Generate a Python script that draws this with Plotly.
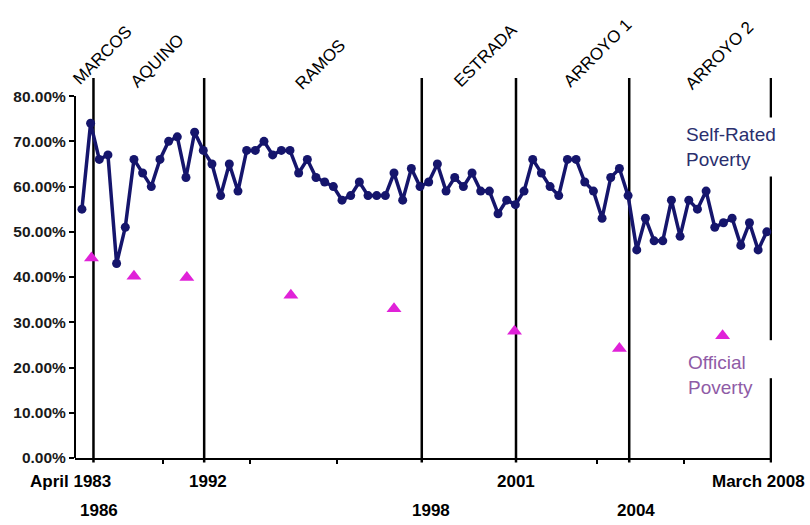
import plotly.graph_objects as go

# Self-rated poverty, % of families, one value per SWS survey round (Apr 1983 .. Mar 2008)
survey_no = list(range(1, 81))
self_rated = [
    55, 74, 66, 67, 43, 51, 66, 63, 60, 66,
    70, 71, 62, 72, 68, 65, 58, 65, 59, 68,
    68, 70, 67, 68, 68, 63, 66, 62, 61, 60,
    57, 58, 61, 58, 58, 58, 63, 57, 64, 60,
    61, 65, 59, 62, 60, 63, 59, 59, 54, 57,
    56, 59, 66, 63, 60, 58, 66, 66, 61, 59,
    53, 62, 64, 58, 46, 53, 48, 48, 57, 49,
    57, 55, 59, 51, 52, 53, 47, 52, 46, 50,
]

# Official poverty incidence, placed at the survey round nearest each official release
official_at = [2.1, 7.0, 13.1, 25.1, 37.0, 50.9, 63.0, 74.9]
official = [44.2, 40.2, 39.9, 36.0, 33.0, 28.0, 24.2, 27.0]

# Administration boundaries (survey-round position) and their names
term_breaks = [2.33, 15.1, 40.2, 51.07, 64.13, 80.48]
presidents = ["MARCOS", "AQUINO", "RAMOS", "ESTRADA", "ARROYO 1", "ARROYO 2"]
president_pos = [(0.039, 1.060), (0.119, 1.045), (0.352, 1.036),
                 (0.589, 1.060), (0.751, 1.066), (0.925, 1.058)]

# Date labels under the axis: first row and second row
date_row1 = [("April 1983", -0.006), ("1992", 0.191), ("2001", 0.633), ("March 2008", 0.980)]
date_row2 = [("1986", 0.034), ("1998", 0.511), ("2004", 0.805)]
row1_y, row2_y = -0.061, -0.139

y_ticks = [0, 10, 20, 30, 40, 50, 60, 70, 80]

NAVY = "#15156C"
MAGENTA = "#E022D8"
FONT = "Liberation Sans"

fig = go.Figure()

fig.add_trace(go.Scatter(
    x=survey_no, y=self_rated, mode="lines+markers",
    line=dict(color=NAVY, width=3.5),
    marker=dict(color=NAVY, size=9, symbol="circle"),
    showlegend=False, hoverinfo="skip",
))

fig.add_trace(go.Scatter(
    x=official_at, y=official, mode="markers",
    marker=dict(color=MAGENTA, size=13, symbol="triangle-up"),
    showlegend=False, hoverinfo="skip",
))

shapes = []
for xb in term_breaks:
    shapes.append(dict(type="line", xref="x", yref="paper", x0=xb, x1=xb,
                       y0=-0.012, y1=1.0, line=dict(color="black", width=2.5),
                       layer="below"))
# vertical axis line, drawn only up to the 80% tick
shapes.append(dict(type="line", xref="paper", yref="y", x0=0, x1=0, y0=0, y1=80,
                   line=dict(color="black", width=2)))
# clear space behind the "Official Poverty" caption
shapes.append(dict(type="rect", xref="paper", yref="paper", x0=0.985, x1=1.01,
                   y0=0.21, y1=0.31, fillcolor="white", line=dict(width=0),
                   layer="above"))

annotations = []
for name, (px, py) in zip(presidents, president_pos):
    annotations.append(dict(text=name, xref="paper", yref="paper", x=px, y=py,
                            textangle=-45, showarrow=False,
                            font=dict(family=FONT, size=17, color="black"),
                            xanchor="center", yanchor="middle"))

label_font = dict(family="Liberation Sans Narrow, Liberation Sans", size=17,
                  color="black", weight="bold")
for txt, px in date_row1:
    annotations.append(dict(text=txt, xref="paper", yref="paper", x=px, y=row1_y,
                            showarrow=False, font=label_font,
                            xanchor="center", yanchor="middle"))
for txt, px in date_row2:
    annotations.append(dict(text=txt, xref="paper", yref="paper", x=px, y=row2_y,
                            showarrow=False, font=label_font,
                            xanchor="center", yanchor="middle"))

annotations.append(dict(text="Self-Rated<br>Poverty", xref="paper", yref="paper",
                        x=0.866, y=0.818, xanchor="left", yanchor="middle",
                        align="left", showarrow=False, bgcolor="white", borderpad=6,
                        font=dict(family=FONT, size=19, color="#2B2F6E")))
annotations.append(dict(text="Official<br>Poverty", xref="paper", yref="paper",
                        x=0.877, y=0.218, xanchor="left", yanchor="middle",
                        align="left", showarrow=False,
                        font=dict(family=FONT, size=19, color="#8F5BA6")))

fig.update_layout(
    width=810, height=525,
    margin=dict(l=75, r=38, t=78, b=67),
    paper_bgcolor="white", plot_bgcolor="white",
    shapes=shapes, annotations=annotations,
    xaxis=dict(range=[0.2, 80.6], showgrid=False, zeroline=False,
               showline=True, linecolor="black", linewidth=2,
               ticks="outside", ticklen=4, tickwidth=1.5, tickcolor="black",
               tickvals=[10.4, 20.4, 30.4, 60.4, 70.4], showticklabels=False),
    yaxis=dict(range=[0, 84], showgrid=False, zeroline=False, showline=False,
               tickvals=y_ticks, ticktext=[f"{v:.2f}%" for v in y_ticks],
               ticks="outside", ticklen=5, tickwidth=1.5, tickcolor="black",
               tickfont=dict(family=FONT, size=15.5, color="#1A1A1A", weight="bold")),
)

fig.write_html("out.html")
